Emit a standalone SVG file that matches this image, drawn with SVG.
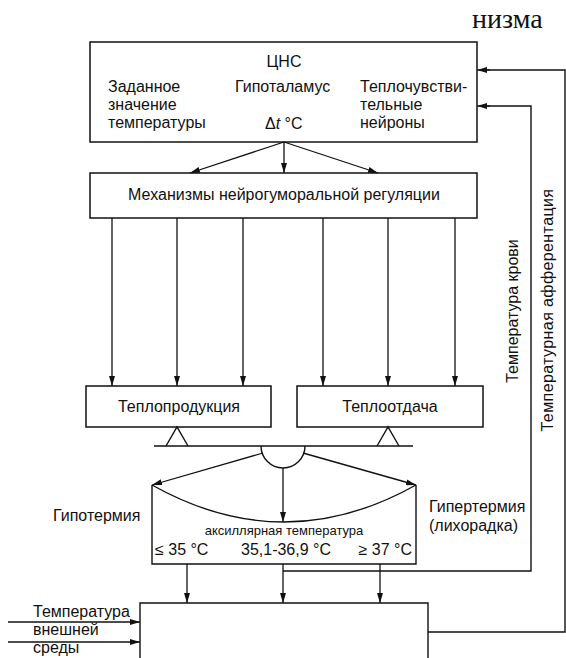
<svg xmlns="http://www.w3.org/2000/svg" width="566" height="658" viewBox="0 0 566 658">
<defs>
<marker id="ah" markerUnits="userSpaceOnUse" markerWidth="10" markerHeight="6" refX="10" refY="3" orient="auto">
<path d="M0,0 L10,3 L0,6 z" fill="#111"/>
</marker>
<style>
.box{fill:none;stroke:#111;stroke-width:1.5}
.ln{fill:none;stroke:#111;stroke-width:1.4}
.ar{fill:none;stroke:#111;stroke-width:1.3;marker-end:url(#ah)}
text{font-family:"Liberation Sans",Arial,sans-serif;font-size:16px;fill:#111}
.mid{text-anchor:middle}
.small{font-size:13px}
.serif{font-family:"Liberation Serif","Times New Roman",serif;font-size:28px}
</style>
</defs>
<rect width="566" height="658" fill="#fff"/>
<text class="serif" x="472" y="28">низма</text>

<g id="cns">
<rect class="box" x="90" y="42" width="387" height="100"/>
<text class="mid" x="284" y="67">ЦНС</text>
<text x="108" y="92">Заданное</text>
<text x="108" y="110">значение</text>
<text x="108" y="128">температуры</text>
<text x="235" y="92">Гипоталамус</text>
<text x="265" y="129">Δ<tspan font-style="italic">t</tspan> °C</text>
<text x="360" y="92">Теплочувстви-</text>
<text x="360" y="110">тельные</text>
<text x="360" y="128">нейроны</text>
</g>

<g id="mech">
<rect class="box" x="90" y="173" width="387" height="45"/>
<text class="mid" x="284" y="200">Механизмы нейрогуморальной регуляции</text>
</g>

<g id="heatprod">
<rect class="box" x="86" y="386" width="185" height="41"/>
<text class="mid" x="179" y="412">Теплопродукция</text>
</g>

<g id="heatloss">
<rect class="box" x="297" y="386" width="186" height="41"/>
<text class="mid" x="390" y="412">Теплоотдача</text>
</g>

<g id="balance">
<path class="ln" d="M166,446 L177,427 L188,446 M377,446 L388,427 L399,446"/>
<path class="ln" d="M154,446 L413,446"/>
<path class="ln" d="M261,446 A22,22 0 0 0 305,446"/>
</g>

<g id="tempbox">
<path class="ln" d="M152,485 L152,564 L416,564 L416,485"/>
<path class="ln" d="M152,485 Q284,559 416,485"/>
<text class="mid small" x="284" y="535">аксиллярная температура</text>
<text x="155" y="555">≤ 35 °C</text>
<text class="mid" x="286" y="555">35,1-36,9 °C</text>
<text x="412" y="555" text-anchor="end">≥ 37 °C</text>
</g>

<g id="labels">
<text x="53" y="521">Гипотермия</text>
<text x="429" y="512">Гипертермия</text>
<text x="429" y="531">(лихорадка)</text>
<text class="mid" transform="translate(518,311) rotate(-90)">Температура крови</text>
<text class="mid" transform="translate(553,310) rotate(-90)" letter-spacing="0.4">Температурная афферентация</text>
</g>

<g id="organism">
<path class="ln" d="M140,662 L140,603 L428,603 L428,662"/>
<text x="33" y="617">Температура</text>
<text x="33" y="635">внешней</text>
<text x="33" y="653">среды</text>
</g>

<g id="connectors">
<path class="ar" d="M284,142 L190,173"/>
<path class="ar" d="M284,142 L284,173"/>
<path class="ar" d="M284,142 L378,173"/>
<path class="ar" d="M112,218 L112,386"/>
<path class="ar" d="M177,218 L177,386"/>
<path class="ar" d="M243,218 L243,386"/>
<path class="ar" d="M323,218 L323,386"/>
<path class="ar" d="M388,218 L388,386"/>
<path class="ar" d="M455,218 L455,386"/>
<path class="ar" d="M263,453 L152,485"/>
<path class="ar" d="M283,468 L283,522"/>
<path class="ar" d="M303,453 L416,485"/>
<path class="ar" d="M187,564 L187,603"/>
<path class="ar" d="M283,564 L283,603"/>
<path class="ar" d="M380,564 L380,603"/>
<path class="ln" d="M283,571 L531,571 L531,106 L487,106"/>
<path class="ar" d="M490,106 L477,106"/>
<path class="ln" d="M428,632 L565,632 L565,70 L487,70"/>
<path class="ar" d="M490,70 L477,70"/>
<path class="ar" d="M8,622 L140,622"/>
<path class="ar" d="M8,642 L140,642"/>
</g>
</svg>
